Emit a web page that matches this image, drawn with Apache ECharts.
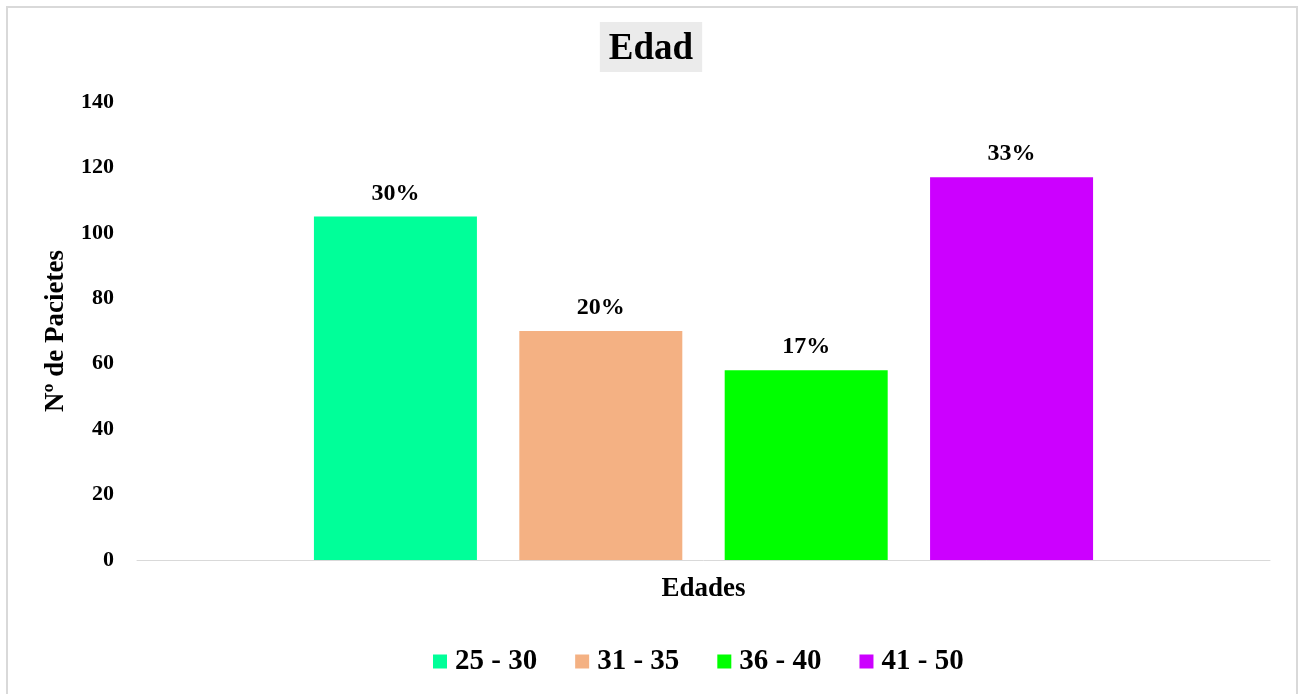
<!DOCTYPE html>
<html>
<head>
<meta charset="utf-8">
<script src="https://cdn.jsdelivr.net/npm/echarts@6/dist/echarts.min.js"></script>
<style>
    html, body { margin: 0; padding: 0; background: #fff; }
    #frame { position: absolute; left: 6px; top: 6px; width: 1292px; height: 700px; border: 2px solid #d9d9d9; box-sizing: border-box; }
    #my_chart { position: absolute; left: 0; top: 0; width: 1302px; height: 694px; }
</style>
</head>
<body>
<div id="frame"></div>
<div id="my_chart"></div>
<script>
// datos
var categorias = ['Edades'];
var grupos = ['25 - 30', '31 - 35', '36 - 40', '41 - 50'];
var pacientes = [105, 70, 58, 117];
var porcentajes = ['30%', '20%', '17%', '33%'];
var colores = ['#00ff99', '#f4b183', '#00ff00', '#cc00ff'];
var yTicks = [0, 20, 40, 60, 80, 100, 120, 140];

var fuente = '"Liberation Serif", "Times New Roman", serif';

var myChart = echarts.init(document.getElementById('my_chart'));

var series = [];
for (var i = 0; i < grupos.length; i++) {
    series.push({
        name: grupos[i],
        type: 'bar',
        barWidth: 163,
        barGap: '26%',
        itemStyle: { color: colores[i] },
        label: {
            show: true,
            position: 'top',
            distance: 11,
            formatter: (function (t) { return function () { return t; }; })(porcentajes[i]),
            fontFamily: fuente,
            fontWeight: 'bold',
            fontSize: 24,
            color: '#000'
        },
        data: [pacientes[i]]
    });
}

var option = {
    animation: false,
    title: {
        text: 'Edad',
        left: 'center',
        top: 22,
        backgroundColor: '#ebebeb',
        padding: [9, 9, 4, 9],
        textStyle: { fontFamily: fuente, fontWeight: 'bold', fontSize: 37, color: '#000' }
    },
    legend: {
        data: grupos,
        bottom: 13,
        left: 428,
        itemWidth: 14,
        itemHeight: 14,
        itemGap: 38,
        icon: 'rect',
        textStyle: { fontFamily: fuente, fontWeight: 'bold', fontSize: 29, color: '#000', padding: [0, 0, 0, 3] }
    },
    grid: { left: 137, right: 32, top: 102, bottom: 134 },
    xAxis: [{
        type: 'category',
        data: categorias,
        name: 'Edades',
        nameLocation: 'middle',
        nameGap: 16,
        nameTextStyle: { fontFamily: fuente, fontWeight: 'bold', fontSize: 27, color: '#000' },
        axisLine: { lineStyle: { color: '#d9d9d9', width: 1 } },
        axisTick: { show: false },
        axisLabel: { show: false }
    }],
    yAxis: [{
        type: 'value',
        min: yTicks[0],
        max: yTicks[yTicks.length - 1],
        interval: 20,
        name: 'Nº de Pacietes',
        nameLocation: 'middle',
        nameGap: 67,
        nameTextStyle: { fontFamily: fuente, fontWeight: 'bold', fontSize: 27, color: '#000' },
        axisLine: { show: false },
        axisTick: { show: false },
        splitLine: { show: false },
        axisLabel: { fontFamily: fuente, fontWeight: 'bold', fontSize: 22, color: '#000', margin: 23 }
    }],
    series: series
};

myChart.setOption(option, true);
</script>
</body>
</html>
